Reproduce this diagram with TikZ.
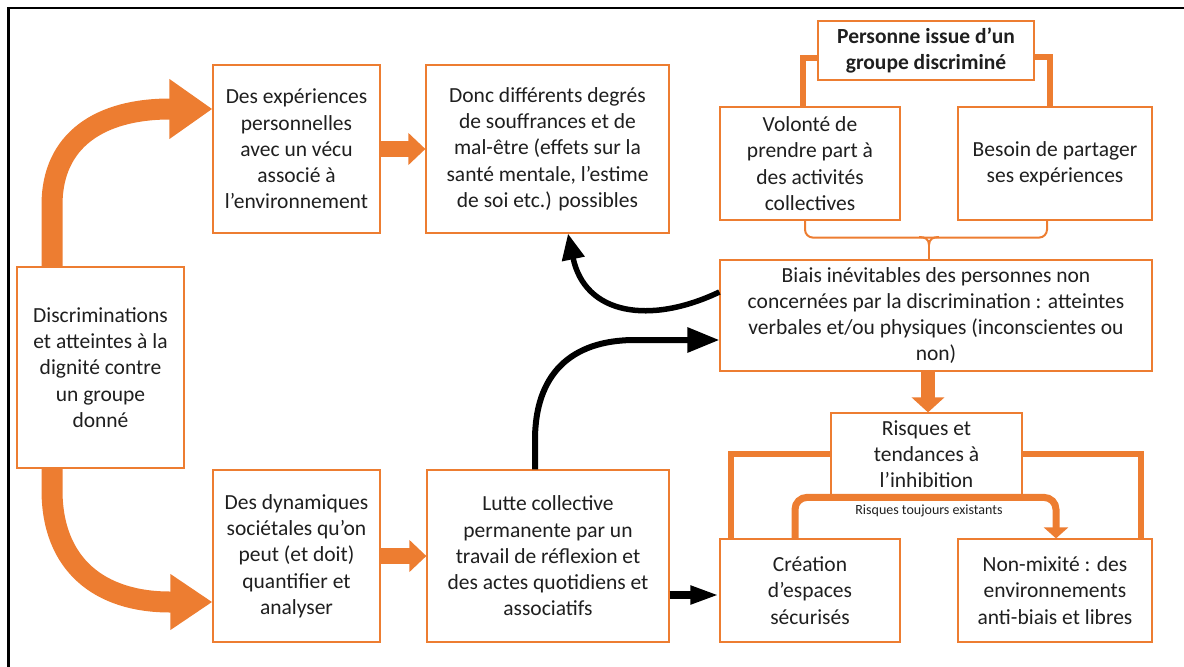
\documentclass[tikz,border=0pt]{standalone}
\usepackage{fontspec}
\setmainfont{Carlito}
\usetikzlibrary{arrows.meta}
\definecolor{orng}{HTML}{ED7D31}
\definecolor{txt}{HTML}{1F1F1F}
\begin{document}
\begin{tikzpicture}[x=1pt,y=-1pt,
  box/.style={draw=orng,line width=1.2pt,fill=white,align=center,inner sep=0pt,text=txt,font=\fontsize{21.5}{26.3}\selectfont},
  bigarrow/.style={draw=orng,line width=21pt,-{Triangle[length=43pt,width=57pt]}},
  medarrow/.style={draw=orng,line width=16pt,-{Triangle[length=17pt,width=31pt]}},
  blkarrow/.style={draw=black,line width=5.5pt},
  orline/.style={draw=orng,line width=6.5pt},
  thinor/.style={draw=orng,line width=2pt}
]
\useasboundingbox (0,0) rectangle (1184,667);
\draw[line width=2.5pt] (8.5,667) -- (8.5,8) -- (1184,8);

\node[box,minimum width=167pt,minimum height=201pt] (A) at (100.5,367.5) {Discriminations\\et atteintes à la\\dignité contre\\un groupe\\donné};
\node[box,minimum width=167pt,minimum height=168pt] (B) at (296.5,149) {Des expériences\\personnelles\\avec un vécu\\associé à\\l’environnement};
\node[box,minimum width=243pt,minimum height=168pt] (C) at (547.5,149) {Donc différents degrés\\de souffrances et de\\mal-être (effets sur la\\santé mentale, l’estime\\de soi etc.) possibles};
\node[box,minimum width=167pt,minimum height=172pt] (D) at (296.5,556) {Des dynamiques\\sociétales qu’on\\peut (et doit)\\quantifier et\\analyser};
\node[box,minimum width=242pt,minimum height=172pt] (E) at (548,556) {Lutte collective\\permanente par un\\travail de réflexion et\\des actes quotidiens et\\associatifs};
\node[box,minimum width=216pt,minimum height=59pt,font=\fontsize{21.5}{26.3}\selectfont\bfseries] (F) at (926,50.5) {Personne issue d’un\\groupe discriminé};
\node[box,minimum width=180pt,minimum height=113pt] (G) at (810,163.5) {Volonté de\\prendre part à\\des activités\\collectives};
\node[box,minimum width=194pt,minimum height=113pt] (H) at (1055,163.5) {Besoin de partager\\ses expériences};
\node[box,minimum width=432pt,minimum height=111pt] (I) at (936,315.5) {Biais inévitables des personnes non\\concernées par la discrimination : atteintes\\verbales et/ou physiques (inconscientes ou\\non)};
\node[box,minimum width=191pt,minimum height=82pt] (J) at (926.5,454) {Risques et\\tendances à\\l’inhibition};
\node[box,minimum width=180pt,minimum height=103pt] (K) at (810,590.5) {Création\\d’espaces\\sécurisés};
\node[box,minimum width=194pt,minimum height=103pt] (L) at (1055,590.5) {Non-mixité : des\\environnements\\anti-biais et libres};

% big curved orange arrows
\draw[bigarrow] (A.north -| 52,0) -- (52,205) .. controls (52,140) and (100,109) .. (170,109) -- (B.west |- 0,109);
\draw[bigarrow,-{Triangle[length=42pt,width=53pt]}] (A.south -| 52,0) -- (52,490) .. controls (52,565) and (100,602) .. (170,602) -- (D.west |- 0,602);

% medium orange arrows
\draw[medarrow] (B.east) -- (C.west);
\draw[medarrow] (D.east) -- (E.west);
\draw[draw=orng,line width=14pt,-{Triangle[length=15pt,width=32pt]}] ([xshift=-8pt]I.south) -- ([xshift=1.5pt]J.north);

% black arrows
\draw[blkarrow,-{Triangle[length=26pt,width=22pt]}] ([yshift=23.5pt]I.west) .. controls (650,325) and (585,315) .. ([xshift=20.5pt]C.south);
\draw[blkarrow,line width=6pt,-{Triangle[length=32pt,width=24pt]}] ([xshift=-13pt]E.north) -- (535,440) .. controls (535,375) and (570,340) .. (635,340) -- ([yshift=-24.5pt]I.west);
\draw[blkarrow,line width=8pt,-{Triangle[length=29pt,width=17pt]}] ([yshift=-39pt]E.east) -- ([yshift=-4.5pt]K.west);

% F to G and H
\draw[orline,line width=6pt] ([yshift=-7.5pt]F.west) -| ([xshift=-7pt]G.north);
\draw[orline,line width=6pt] ([yshift=-6.5pt]F.east) -| ([xshift=-5pt]H.north);

% bracket G/H to I
\draw[thinor,rounded corners=8pt] ([xshift=-5pt]G.south) -- ++(0,17) -| ([xshift=-8pt]H.south);
\draw[thinor] (919,237) .. controls (925,237) and (929,239) .. (929,245) .. controls (929,239) and (933,237) .. (939,237);
\draw[thinor] ([xshift=-7pt]I.north) -- ++(0,-16);

% J to K and L
\draw[orline] (J.west) -| ([xshift=-79pt]K.north);
\draw[orline] (J.east) -| ([xshift=86pt]L.north);

% Risques toujours existants
\draw[draw=orng,line width=7pt,rounded corners=12pt,-{Triangle[length=11pt,width=24pt]}] ([xshift=-15pt]K.north) -- ++(0,-41) -| ([xshift=1pt]L.north);
\node[font=\fontsize{14}{16}\selectfont,text=txt,inner sep=0pt] (lbl) at (929,511) {Risques toujours existants};
\end{tikzpicture}
\end{document}
